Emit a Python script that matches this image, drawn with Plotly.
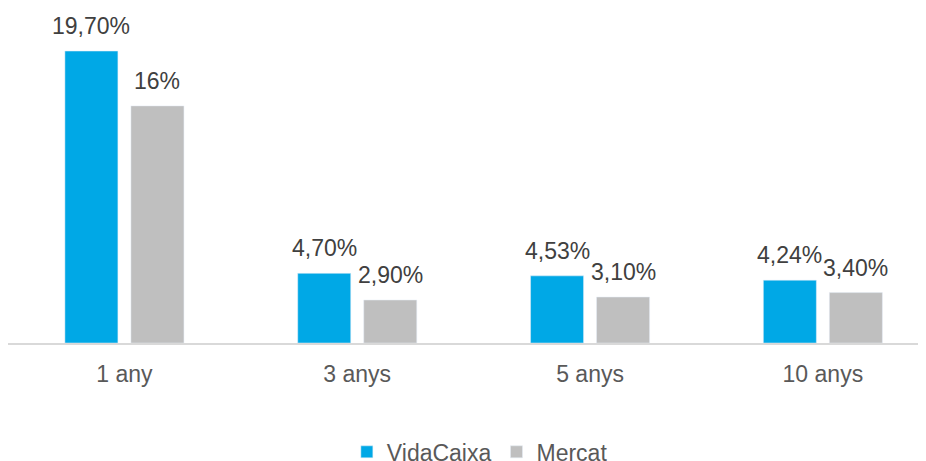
import plotly.graph_objects as go

categories = ["1 any", "3 anys", "5 anys", "10 anys"]
vidacaixa = [19.70, 4.70, 4.53, 4.24]
mercat = [16.0, 2.90, 3.10, 3.40]
vida_labels = ["19,70%", "4,70%", "4,53%", "4,24%"]
mercat_labels = ["16%", "2,90%", "3,10%", "3,40%"]

BLUE = "#00A8E6"
GRAY = "#BFBFBF"
FONT = "Liberation Sans, Arial, sans-serif"

fig = go.Figure()
fig.add_trace(go.Bar(name="VidaCaixa", x=categories, y=vidacaixa, marker_color=BLUE,
                     width=0.2277, offset=-0.2556))
fig.add_trace(go.Bar(name="Mercat", x=categories, y=mercat, marker_color=GRAY,
                     width=0.2277, offset=0.028))

annotations = []
for c, v, t in zip(categories, vidacaixa, vida_labels):
    annotations.append(dict(x=c, y=v, text=t, xref="x", yref="y", showarrow=False,
                            yanchor="bottom", xshift=-33, yshift=10,
                            font=dict(family=FONT, size=23, color="#404040")))
for c, v, t in zip(categories, mercat, mercat_labels):
    annotations.append(dict(x=c, y=v, text=t, xref="x", yref="y", showarrow=False,
                            yanchor="bottom", xshift=33, yshift=10,
                            font=dict(family=FONT, size=23, color="#404040")))

fig.update_layout(
    width=918, height=453,
    margin=dict(l=0, r=0, t=2, b=118, autoexpand=False),
    paper_bgcolor="white", plot_bgcolor="white",
    barmode="overlay",
    font=dict(family=FONT, size=23, color="#595959"),
    showlegend=True,
    legend=dict(orientation="h", x=0.514, xanchor="center", y=-0.327, yanchor="middle",
                font=dict(family=FONT, size=23, color="#595959"), itemwidth=30),
    annotations=annotations,
    xaxis=dict(range=[-0.5, 3.443], showline=True, linecolor="#D9D9D9", linewidth=1.5,
               ticks="", ticklabelstandoff=10, showgrid=False,
               tickfont=dict(family=FONT, size=23, color="#595959")),
    yaxis=dict(range=[0, 22.47], visible=False, showgrid=False, zeroline=False),
)
fig.write_html("out.html")
